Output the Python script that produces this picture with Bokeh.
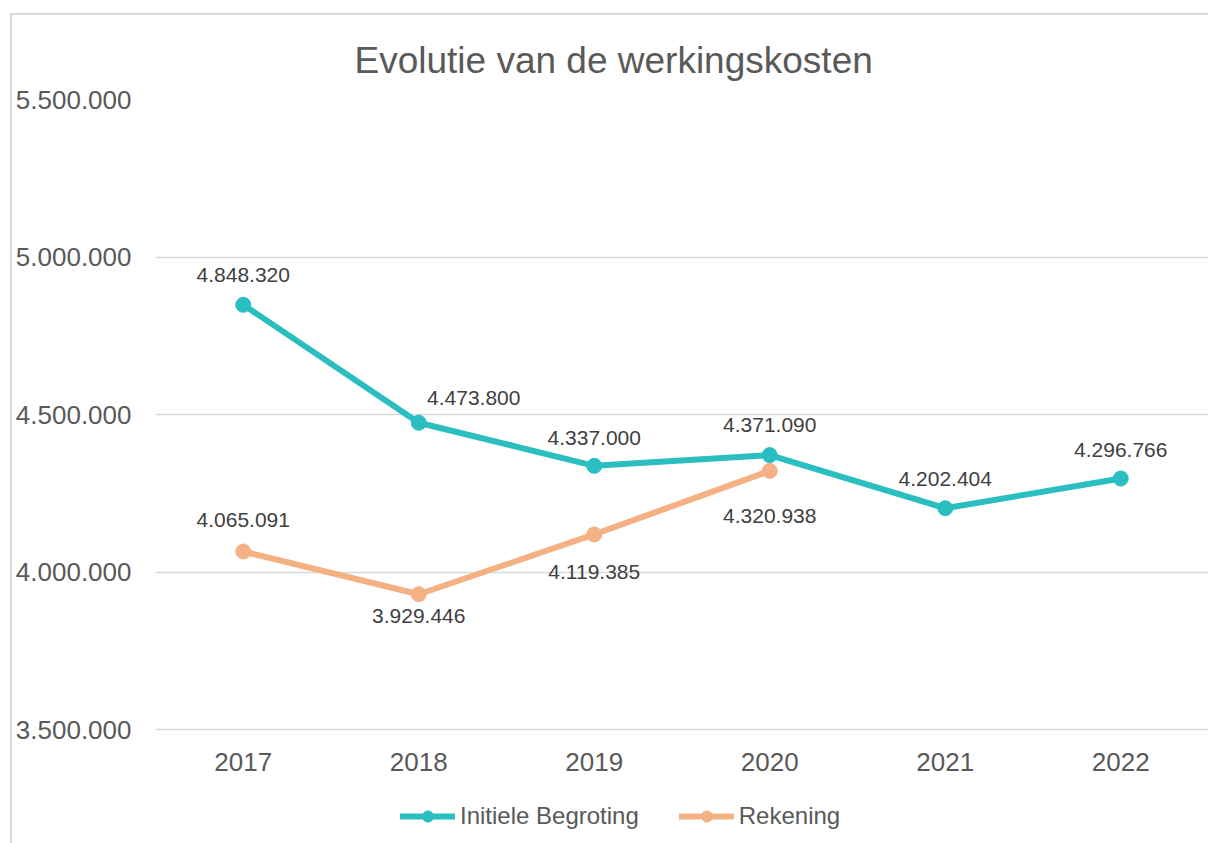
from bokeh.plotting import figure
from bokeh.models import (Range1d, FixedTicker, CustomJSTickFormatter, Legend, LegendItem,
                          Title, ColumnDataSource)
from bokeh.core.properties import value
from bokeh.embed import file_html
from bokeh.resources import INLINE

# ---- data ----
years = [2017, 2018, 2019, 2020, 2021, 2022]
begroting = [4848320, 4473800, 4337000, 4371090, 4202404, 4296766]
rekening_years = [2017, 2018, 2019, 2020]
rekening = [4065091, 3929446, 4119385, 4320938]
y_ticks = [3500000, 4000000, 4500000, 5000000, 5500000]
series_names = ["Initiele Begroting", "Rekening"]
title_text = "Evolutie van de werkingskosten"

# ---- styles ----
TEAL = "#2BBEC0"
ORANGE = "#F4B183"
TXT = "#595959"
LBL = "#404040"
FONT = "Liberation Sans"

# label placement offsets (screen px)
beg_dx = [0, 55, 0, 0, 0, 0]
beg_dy = [-30, -25, -28, -30, -29, -29]
rek_dx = [0, 0, 0, 0]
rek_dy = [-31, 22, 38, 45]

def fmt(v):
    return f"{v:,}".replace(",", ".")

# layout: value axis spans 630 px for y_ticks range; frame extends further down to hold
# x-axis labels and legend inside the drawing area
AXIS_PX = 630
EXTRA_PX = 144
y_lo, y_hi = y_ticks[0], y_ticks[-1]
per_px = (y_hi - y_lo) / AXIS_PX

p = figure(frame_width=1053, frame_height=AXIS_PX + EXTRA_PX, output_backend="svg",
           toolbar_location=None,
           x_range=Range1d(2016.5, 2022.5), y_range=Range1d(y_lo - EXTRA_PX * per_px, y_hi),
           min_border_left=143, min_border_right=0, min_border_top=84, min_border_bottom=0)
p.background_fill_color = "white"
p.border_fill_color = "white"
p.outline_line_color = None
p.styles = {"border-left": "2px solid #d9d9d9", "border-top": "2px solid #d9d9d9",
            "border-right": "none", "border-bottom": "none",
            "margin-left": "10px", "margin-top": "13px"}

t = Title(text=title_text, align="left", offset=199, text_font=FONT, text_font_size="37px",
          text_font_style="normal", text_color=TXT, standoff=37)
p.add_layout(t, "above")

# axes
p.yaxis.ticker = FixedTicker(ticks=y_ticks)
p.yaxis.formatter = CustomJSTickFormatter(
    code='return Math.round(tick).toString().replace(/\\B(?=(\\d{3})+(?!\\d))/g, ".");')
p.xaxis.ticker = FixedTicker(ticks=years)
p.xaxis.formatter = CustomJSTickFormatter(code="return Math.round(tick).toString();")
p.xaxis.fixed_location = y_lo
for ax in (p.xaxis, p.yaxis):
    ax.axis_line_color = None
    ax.major_tick_line_color = None
    ax.minor_tick_line_color = None
    ax.major_tick_out = 0
    ax.major_tick_in = 0
    ax.major_label_text_font = FONT
    ax.major_label_text_font_size = "26px"
    ax.major_label_text_color = TXT
p.yaxis.major_label_standoff = 24
p.xaxis.major_label_standoff = 23

p.xgrid.grid_line_color = None
p.ygrid.grid_line_color = "#d9d9d9"
p.ygrid.grid_line_width = 1.5

# series
l1 = p.line(years, begroting, line_color=TEAL, line_width=6, line_cap="round", line_join="round")
s1 = p.scatter(years, begroting, size=15, fill_color=TEAL, line_color=TEAL)
l2 = p.line(rekening_years, rekening, line_color=ORANGE, line_width=6, line_cap="round", line_join="round")
s2 = p.scatter(rekening_years, rekening, size=15, fill_color=ORANGE, line_color=ORANGE)

src1 = ColumnDataSource(dict(x=years, y=begroting, t=[fmt(v) for v in begroting], dx=beg_dx, dy=beg_dy))
src2 = ColumnDataSource(dict(x=rekening_years, y=rekening, t=[fmt(v) for v in rekening], dx=rek_dx, dy=rek_dy))
for src in (src1, src2):
    p.text(x="x", y="y", text="t", x_offset="dx", y_offset="dy", source=src,
           text_align="center", text_baseline="middle", text_font=value(FONT),
           text_font_size="21px", text_color=LBL)

legend = Legend(items=[LegendItem(label=series_names[0], renderers=[l1, s1]),
                       LegendItem(label=series_names[1], renderers=[l2, s2])],
                orientation="horizontal", location=(245, 43),
                label_text_font=FONT, label_text_font_size="24px", label_text_color=TXT,
                glyph_width=55, glyph_height=28, label_standoff=5, spacing=40,
                padding=0, margin=0, border_line_color=None, background_fill_alpha=0)
p.add_layout(legend, "center")

open("out.html", "w").write(file_html(p, INLINE))
